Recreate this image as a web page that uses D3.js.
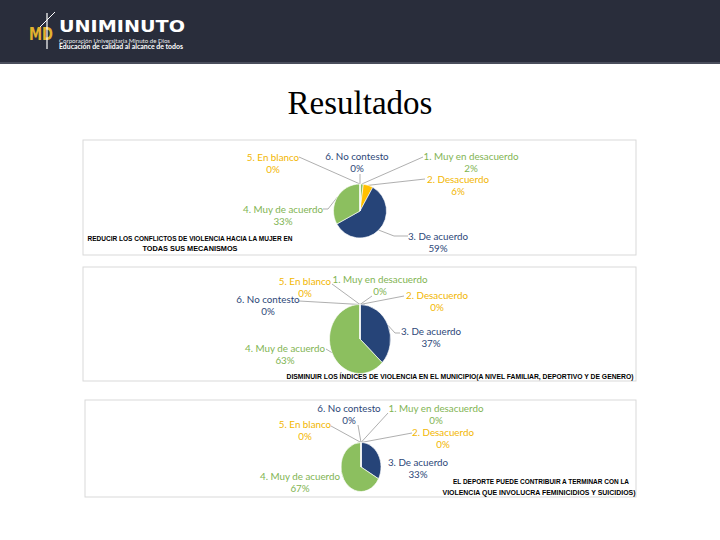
<html lang="es">
<head>
<meta charset="utf-8">
<script src="https://d3js.org/d3.v7.min.js"></script>
<style>
  body { margin: 0; background: #fff; }
  svg { display: block; }
</style>
</head>
<body>
<svg id="chart" width="720" height="540"></svg>
<script>
// ------------------------------------------------------------
// Data
// ------------------------------------------------------------
const categories = ["1. Muy en desacuerdo", "2. Desacuerdo", "3. De acuerdo",
                    "4. Muy de acuerdo", "5. En blanco", "6. No contesto"];
const valuesReducir = [2, 6, 59, 33, 0, 0];
const valuesDisminuir = [0, 0, 37, 63, 0, 0];
const valuesDeporte = [0, 0, 33, 67, 0, 0];
const titleReducir = ["REDUCIR LOS CONFLICTOS DE VIOLENCIA HACIA LA MUJER EN", "TODAS SUS MECANISMOS"];
const titleDisminuir = ["DISMINUIR LOS ÍNDICES DE VIOLENCIA EN EL MUNICIPIO(A NIVEL FAMILIAR, DEPORTIVO Y DE GENERO)"];
const titleDeporte = ["EL DEPORTE PUEDE CONTRIBUIR A TERMINAR CON LA", "VIOLENCIA QUE INVOLUCRA FEMINICIDIOS Y SUICIDIOS)"];

// slice colours repeat green / yellow / blue like the original
const sliceColors = ["#8cbf5f", "#ffc000", "#264478", "#8cbf5f", "#ffc000", "#264478"];
const textColors = ["#7fb452", "#f2b600", "#2d4778", "#7fb452", "#f2b600", "#2d4778"];

// ------------------------------------------------------------
// Layout of each panel (box, pie, label spots, leader starts)
// ------------------------------------------------------------
const panels = [
  { values: valuesReducir, title: titleReducir,
    box: [83, 140, 553, 115], pie: [360, 211, 26.5, 27],
    titlePos: [[190, 241, 205], [190, 251, 95]],
    labels: [[471, 156, [[423, 157]]], [458, 179, [[425, 179]]], [438, 236, [[408, 236], [394, 236]]],
             [283, 209, [[323, 209], [328, 209]]], [273, 157, [[299, 157]]], [357, 156, [[360, 174]]]] },
  { values: valuesDisminuir, title: titleDisminuir,
    box: [83, 267, 553, 114], pie: [360, 339, 30.5, 34.5],
    titlePos: [[460, 379, 347]],
    labels: [[380, 279, [[372, 296]]], [437, 295, [[404, 296]]], [431, 331, [[400, 333], [395, 333]]],
             [285, 348, [[326, 349]]], [305, 281, [[332, 284]]], [268, 299, [[299, 301]]]] },
  { values: valuesDeporte, title: titleDeporte,
    box: [85, 400, 551, 97], pie: [361, 467, 20, 24.5],
    titlePos: [[541, 484, 176], [539, 495, 193]],
    labels: [[436, 408, [[388, 413]]], [443, 432, [[412, 433]]], [418, 462, null],
             [300, 476, null], [305, 424, [[331, 426]]], [349, 408, [[358, 425]]]] }
];

const svg = d3.select("#chart");

// ------------------------------------------------------------
// Header bar with logo
// ------------------------------------------------------------
svg.append("rect").attr("x", 0).attr("y", 0).attr("width", 720).attr("height", 63).attr("fill", "#292d3b");
svg.append("rect").attr("x", 0).attr("y", 62).attr("width", 720).attr("height", 2).attr("fill", "#4a4e5c");

const logo = svg.append("g");
logo.append("text").attr("x", 29).attr("y", 40).attr("textLength", 24).attr("lengthAdjust", "spacingAndGlyphs")
  .style("font-family", "DejaVu Sans").style("font-weight", "bold").style("font-size", "18px")
  .attr("fill", "#e2b22e").text("MD");
logo.append("line").attr("x1", 47).attr("y1", 13).attr("x2", 47).attr("y2", 49).attr("stroke", "#fff").attr("stroke-width", 1.2);
logo.append("line").attr("x1", 40).attr("y1", 27).attr("x2", 55).attr("y2", 12).attr("stroke", "#fff").attr("stroke-width", 1);
logo.append("text").attr("x", 59).attr("y", 32).attr("textLength", 126).attr("lengthAdjust", "spacingAndGlyphs")
  .style("font-family", "DejaVu Sans").style("font-weight", "bold").style("font-size", "15px")
  .attr("fill", "#fff").text("UNIMINUTO");
logo.append("text").attr("x", 59).attr("y", 42.5).attr("textLength", 111).attr("lengthAdjust", "spacingAndGlyphs")
  .style("font-family", "Lato").style("font-size", "6.5px").attr("fill", "#e8e8ec")
  .text("Corporación Universitaria Minuto de Dios");
logo.append("text").attr("x", 59).attr("y", 49).attr("textLength", 124).attr("lengthAdjust", "spacingAndGlyphs")
  .style("font-family", "Lato").style("font-weight", "bold").style("font-size", "6.5px").attr("fill", "#fff")
  .text("Educación de calidad al alcance de todos");

// Title
svg.append("text").attr("x", 360).attr("y", 114).attr("text-anchor", "middle")
  .style("font-family", "Liberation Serif").style("font-size", "33px").attr("fill", "#000")
  .text("Resultados");

// ------------------------------------------------------------
// Pies
// ------------------------------------------------------------
const pie = d3.pie().sort(null).value(d => d);

panels.forEach(p => {
  const g = svg.append("g");
  const [bx, by, bw, bh] = p.box;
  g.append("rect").attr("x", bx).attr("y", by).attr("width", bw).attr("height", bh)
    .attr("fill", "#fff").attr("stroke", "#d9d9d9").attr("stroke-width", 1);

  const [cx, cy, rx, ry] = p.pie;
  const arcs = pie(p.values);
  const arc = d3.arc().innerRadius(0).outerRadius(rx);

  // point on the pie edge at a given angle (ellipse-aware)
  const edge = a => [cx + rx * Math.sin(a), cy - ry * Math.cos(a)];

  // leader lines
  arcs.forEach((d, i) => {
    const lab = p.labels[i];
    if (!lab[2]) return;
    const mid = (d.startAngle + d.endAngle) / 2;
    const pts = lab[2].concat([edge(mid)]);
    g.append("path").attr("d", d3.line()(pts))
      .attr("fill", "none").attr("stroke", "#a6a6a6").attr("stroke-width", 0.9);
  });

  g.append("g").attr("transform", `translate(${cx},${cy}) scale(1,${ry / rx})`)
    .selectAll("path").data(arcs).join("path")
    .attr("d", arc)
    .attr("fill", (d, i) => sliceColors[i])
    .attr("stroke", "#fff").attr("stroke-width", 0.6);

  // data labels
  arcs.forEach((d, i) => {
    const lab = p.labels[i];
    const t = g.append("text").attr("text-anchor", "middle")
      .style("font-family", "Lato").style("font-size", "9.8px").attr("fill", textColors[i]);
    t.append("tspan").attr("x", lab[0]).attr("y", lab[1] + 3.5).text(categories[i]);
    t.append("tspan").attr("x", lab[0]).attr("y", lab[1] + 15.5).text(d3.format(".0f")(d.data) + "%");
  });

  // question text
  p.title.forEach((line, j) => {
    const tp = p.titlePos[j];
    g.append("text").attr("x", tp[0]).attr("y", tp[1]).attr("text-anchor", "middle")
      .attr("textLength", tp[2]).attr("lengthAdjust", "spacingAndGlyphs")
      .style("font-family", "Liberation Sans").style("font-weight", "bold").style("font-size", "7px")
      .attr("fill", "#000").text(line);
  });
});
</script>
</body>
</html>
